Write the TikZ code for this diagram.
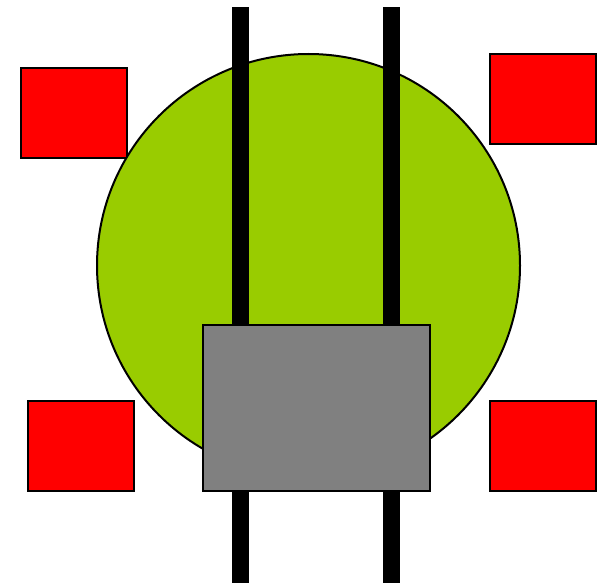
\documentclass[tikz,border=0pt]{standalone}
\begin{document}
\begin{tikzpicture}[x=1pt,y=-1pt,
  redbox/.style={draw=black,line width=2.5pt,fill=red,inner sep=0pt,outer sep=0pt},
  bar/.style={fill=black,inner sep=0pt,outer sep=0pt}]
\useasboundingbox (0,0) rectangle (601,585);
\node[redbox,minimum width=106pt,minimum height=90pt,anchor=north west] (tl) at (21,68) {};
\node[redbox,minimum width=106pt,minimum height=90pt,anchor=north west] (tr) at (490,54) {};
\node[redbox,minimum width=106pt,minimum height=90pt,anchor=north west] (bl) at (28,401) {};
\node[redbox,minimum width=106pt,minimum height=90pt,anchor=north west] (br) at (490,401) {};
\node[circle,draw=black,line width=2pt,fill={rgb,255:red,153;green,204;blue,0},minimum size=423pt,inner sep=0pt] (c) at (308.5,265.5) {};
\node[bar,minimum width=17pt,minimum height=576pt,anchor=north] (lb) at (240,7) {};
\node[bar,minimum width=17pt,minimum height=576pt,anchor=north] (rb) at (391.5,7) {};
\node[draw=black,line width=2pt,fill={rgb,255:red,128;green,128;blue,128},minimum width=227pt,minimum height=166pt,inner sep=0pt,outer sep=0pt,anchor=north west] (g) at (202.5,325) {};
\end{tikzpicture}
\end{document}
